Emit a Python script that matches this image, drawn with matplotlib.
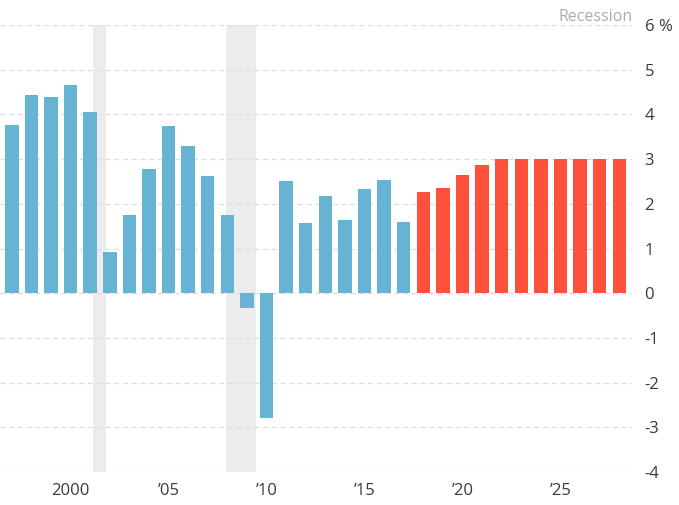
import matplotlib.pyplot as plt
import numpy as np

plt.rcParams['font.family'] = ['Open Sans', 'DejaVu Sans']

years = list(range(1997, 2029))
growth = [3.76, 4.44, 4.39, 4.65, 4.05, 0.92, 1.74, 2.77, 3.74, 3.29, 2.62, 1.74,
          -0.34, -2.8, 2.5, 1.56, 2.18, 1.63, 2.34, 2.54, 1.59,
          2.26, 2.35, 2.65, 2.86, 3.0, 3.0, 3.0, 3.0, 3.0, 3.0, 3.0]
first_forecast = 2018
recessions = [(2001.17, 2001.83), (2007.92, 2009.45)]
yticks = [-4, -3, -2, -1, 0, 1, 2, 3, 4, 5, 6]
ytick_labels = ['-4', '-3', '-2', '-1', '0', '1', '2', '3', '4', '5', '6 %']
xticks = [2000, 2005, 2010, 2015, 2020, 2025]
xtick_labels = ['2000', '’05', '’10', '’15', '’20', '’25']

blue = '#67b3d3'
red = '#fe513b'

fig = plt.figure(figsize=(6.79, 5.05), dpi=100)
ax = fig.add_axes([0, 0.0653, 0.9308, 0.8852])

for start, end in recessions:
    ax.axvspan(start, end, color='#ececee', lw=0, zorder=0)

for y in yticks:
    ax.axhline(y, color='#dddddd', lw=0.9, ls=(0, (4, 3)), zorder=1)

colors = [red if yr >= first_forecast else blue for yr in years]
ax.bar(years, growth, width=0.69, color=colors, zorder=2)

ax.set_xlim(1996.4, 2028.65)
ax.set_ylim(-4, 6)
ax.yaxis.tick_right()
ax.set_yticks(yticks)
ax.set_yticklabels(ytick_labels)
ax.set_xticks(xticks)
ax.set_xticklabels(xtick_labels)
ax.tick_params(axis='y', length=0, pad=9, labelsize=12, labelcolor='#3a3a3a')
ax.tick_params(axis='x', length=0, pad=8, labelsize=12, labelcolor='#3a3a3a')
for s in ax.spines.values():
    s.set_visible(False)

ax.text(2028.7, 6.18, 'Recession', ha='right', va='center', fontsize=11.5,
        color='#aaaaaa', clip_on=False)

fig.savefig('out.png', dpi=100)
